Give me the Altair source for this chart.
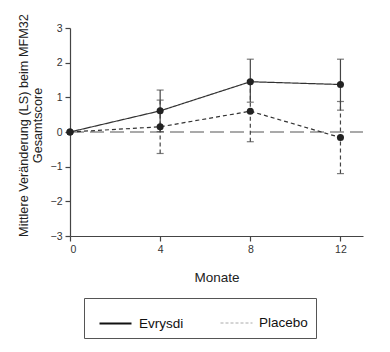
import altair as alt
import pandas as pd

months = [0, 4, 8, 12]
evrysdi_mean = [0, 0.61, 1.45, 1.37]
evrysdi_lo = [0, 0.01, 0.86, 0.63]
evrysdi_hi = [0, 1.21, 2.10, 2.10]
placebo_mean = [0, 0.15, 0.60, -0.16]
placebo_lo = [0, -0.62, -0.28, -1.20]
placebo_hi = [0, 0.92, 1.48, 0.88]
series_names = ["Evrysdi", "Placebo"]
x_ticks = [0, 4, 8, 12]
y_ticks = [-3, -2, -1, 0, 1, 2, 3]

rows = []
for name, m, lo, hi in [("Evrysdi", evrysdi_mean, evrysdi_lo, evrysdi_hi),
                        ("Placebo", placebo_mean, placebo_lo, placebo_hi)]:
    for i, mo in enumerate(months):
        rows.append({"Monat": mo, "Serie": name, "mean": m[i], "lo": lo[i], "hi": hi[i]})
df = pd.DataFrame(rows)
df_err = df[df["Monat"] > 0]
legend_df = pd.DataFrame({"Legende": series_names, "Monat": [0, 0], "mean": [0, 0]})
zero_df = pd.DataFrame({"Monat": [0], "x1": [13], "mean": [0]})

FONT = "Liberation Sans"
xs = alt.Scale(domain=[0, 13], nice=False)
ys = alt.Scale(domain=[-3, 3], nice=False)

x_axis = alt.Axis(values=x_ticks, title="Monate", titlePadding=16, labelOverlap=False,
                  titleFontSize=13.5)
y_axis = alt.Axis(values=y_ticks, title=["Mittlere Veränderung (LS) beim MFM32", "Gesamtscore"],
                  titlePadding=6, labelOverlap=False, titleLineHeight=14, titleFontSize=12.7,
                  titleY=97)

def X(field="Monat:Q"):
    return alt.X(field, scale=xs, axis=x_axis)

def Y(field="mean:Q"):
    return alt.Y(field, scale=ys, axis=y_axis)

zero = alt.Chart(zero_df).mark_rule(color="#555", strokeWidth=1.2, strokeDash=[14, 6]).encode(
    x=X(), x2="x1:Q", y=Y()
)

dashes = {"Evrysdi": [1, 0], "Placebo": [4, 3]}
layers = [zero]
for name in series_names:
    sub_err = df_err[df_err["Serie"] == name]
    layers.append(alt.Chart(sub_err).mark_rule(color="#444", strokeWidth=1.2, strokeDash=dashes[name]).encode(
        x=X(), y=Y("lo:Q"), y2="hi:Q"))
    layers.append(alt.Chart(sub_err).mark_tick(color="#444", orient="horizontal", size=7, thickness=1.2).encode(
        x=X(), y=Y("lo:Q")))
    layers.append(alt.Chart(sub_err).mark_tick(color="#444", orient="horizontal", size=7, thickness=1.2).encode(
        x=X(), y=Y("hi:Q")))
for name in series_names:
    sub = df[df["Serie"] == name]
    layers.append(alt.Chart(sub).mark_line(color="#333", strokeWidth=1.2, strokeDash=dashes[name]).encode(
        x=X(), y=Y()))
pts = alt.Chart(df).mark_circle(color="#222", size=50, opacity=1).encode(x=X(), y=Y())
layers.append(pts)

PAD_TITLE = "\u00a0" * 4
leg = alt.Legend(title=PAD_TITLE, titleOrient="right", titlePadding=0, titleFontSize=13.5,
                 titleFont=FONT,
                 orient="none", legendX=14, legendY=270, direction="horizontal",
                 symbolType="stroke", symbolSize=1024, labelFont=FONT, labelFontSize=13.5,
                 labelColor="#111", padding=8, symbolOffset=6, strokeColor="#555", fillColor="white",
                 columnPadding=30, labelOffset=6)
legend_layer = alt.Chart(legend_df).mark_line().encode(
    x=X(), y=Y(),
    color=alt.Color("Legende:N", scale=alt.Scale(domain=series_names, range=["#111", "#aaa"]), legend=leg),
    strokeDash=alt.StrokeDash("Legende:N", scale=alt.Scale(domain=series_names, range=[[1, 0], [3, 2]]), legend=leg),
    strokeWidth=alt.StrokeWidth("Legende:N", scale=alt.Scale(domain=series_names, range=[2.2, 1]), legend=leg),
)
layers.append(legend_layer)

chart = alt.layer(*layers).properties(
    width=293, height=208,
    background="white",
    autosize=alt.AutoSizeParams(type="none"),
    padding={"left": 70, "top": 28, "right": 27, "bottom": 116},
).configure_view(stroke=None).configure_axis(
    grid=False, domainColor="#444", tickColor="#444", tickSize=5, domainWidth=1.2, tickWidth=1.2,
    labelFont=FONT, labelFontSize=10.5, labelColor="#333", labelPadding=3,
    titleFont=FONT, titleFontWeight="normal", titleColor="#222",
)

chart.save("out.html", embed_options={"renderer": "svg", "actions": False})
